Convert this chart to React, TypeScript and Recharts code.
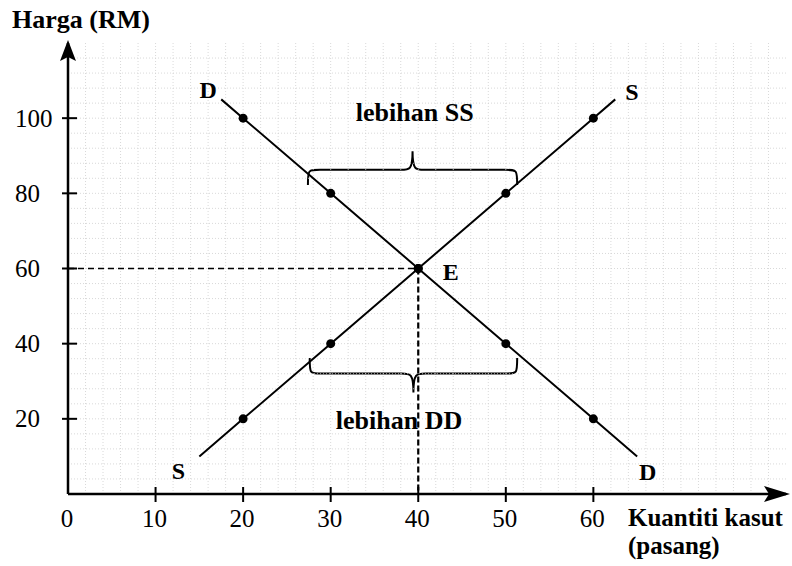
import React from 'react';
import {
  ComposedChart,
  Line,
  XAxis,
  YAxis,
  ReferenceLine,
  ReferenceDot,
  ReferenceArea,
} from 'recharts';

// ---- data ----
const quantities = [20, 30, 40, 50, 60];
const demandPrices = [100, 80, 60, 40, 20];
const supplyPrices = [20, 40, 60, 80, 100];
const demandEnds = [
  { q: 17.5, p: 105 },
  { q: 65, p: 10 },
];
const supplyEnds = [
  { q: 15, p: 10 },
  { q: 62.5, p: 105 },
];
const equilibrium = { q: 40, p: 60 };
const xTicks = [0, 10, 20, 30, 40, 50, 60];
const yTicks = [20, 40, 60, 80, 100];
const gridQ = Array.from({ length: 40 }, (_, i) => (i + 1) * 2);
const gridP = Array.from({ length: 29 }, (_, i) => (i + 1) * 4);

const demandData = [
  { q: demandEnds[0].q, p: demandEnds[0].p, mark: false },
  ...quantities.map((q, i) => ({ q, p: demandPrices[i], mark: true })),
  { q: demandEnds[1].q, p: demandEnds[1].p, mark: false },
];
const supplyData = [
  { q: supplyEnds[0].q, p: supplyEnds[0].p, mark: false },
  ...quantities.map((q, i) => ({ q, p: supplyPrices[i], mark: true })),
  { q: supplyEnds[1].q, p: supplyEnds[1].p, mark: false },
];

const FONT = '"Liberation Serif", "Times New Roman", serif';

const renderDot = (props: any) => {
  const { cx, cy, payload, index } = props;
  if (!payload || !payload.mark) return <g key={`d-${index}`} />;
  return <circle key={`d-${index}`} cx={cx} cy={cy} r={4.5} fill="#000" />;
};

const YTick = (props: any) => {
  const { x, y, payload } = props;
  return (
    <g>
      <line x1={x - 6} x2={x + 9} y1={y} y2={y} stroke="#000" strokeWidth={2} />
      <text x={x - 53} y={y + 8.5} fontFamily={FONT} fontSize={25} fill="#000" textAnchor="start">
        {payload.value}
      </text>
    </g>
  );
};

const XTick = (props: any) => {
  const { x, y, payload } = props;
  return (
    <g>
      {payload.value !== 0 && (
        <line x1={x} x2={x} y1={y - 7} y2={y + 8} stroke="#000" strokeWidth={2} />
      )}
      <text x={x - 1} y={y + 33} fontFamily={FONT} fontSize={25} fill="#000" textAnchor="middle">
        {payload.value}
      </text>
    </g>
  );
};

function bracePath(x0: number, x1: number, yEnd: number, yTip: number) {
  const xc = (x0 + x1) / 2;
  const ym = yEnd + (yTip - yEnd) * 0.45;
  const r = 12;
  return `M${x0},${yEnd} C${x0},${ym} ${x0},${ym} ${x0 + r},${ym} L${xc - r},${ym} C${xc - 3},${ym} ${xc},${ym} ${xc},${yTip} C${xc},${ym} ${xc + 3},${ym} ${xc + r},${ym} L${x1 - r},${ym} C${x1},${ym} ${x1},${ym} ${x1},${yEnd}`;
}

const UpperBrace = (props: any) => {
  const { x, y, width, height } = props;
  return <path d={bracePath(x, x + width, y + height, y)} fill="none" stroke="#000" strokeWidth={2} />;
};
const LowerBrace = (props: any) => {
  const { x, y, width, height } = props;
  return <path d={bracePath(x, x + width, y, y + height)} fill="none" stroke="#000" strokeWidth={2} />;
};

const textShape = (label: string, size: number) => (props: any) => {
  const { cx, cy } = props;
  return (
    <text x={cx} y={cy} fontFamily={FONT} fontSize={size} fontWeight="bold" fill="#000" textAnchor="middle">
      {label}
    </text>
  );
};

const UpArrow = (props: any) => {
  const { cx, cy } = props;
  return <path d={`M${cx},${cy - 3} L${cx - 8},${cy + 18} L${cx},${cy + 14} L${cx + 8},${cy + 18} Z`} fill="#000" />;
};
const RightArrow = (props: any) => {
  const { cx, cy } = props;
  return <path d={`M${cx + 4},${cy} L${cx - 22},${cy - 8} L${cx - 17},${cy} L${cx - 22},${cy + 8} Z`} fill="#000" />;
};

export default function App() {
  return (
    <div style={{ position: 'absolute', left: 0, top: 0, background: '#fff' }}>
      <ComposedChart width={792} height={566} margin={{ top: 43, right: 6, bottom: 42, left: 8 }}>
        <XAxis
          type="number"
          dataKey="q"
          domain={[0, 82]}
          ticks={xTicks}
          interval={0}
          allowDataOverflow
          height={30}
          tickSize={0}
          tickMargin={0}
          tickLine={false}
          axisLine={{ stroke: '#000', strokeWidth: 2.5 }}
          tick={XTick}
          label={{
            content: (p: any) => {
              const vb = p.viewBox || { x: 68, y: 494 };
              return (
                <g>
                  <text x={vb.x + 560} y={vb.y + 32} fontFamily={FONT} fontSize={25} fontWeight="bold" fill="#000">
                    Kuantiti kasut
                  </text>
                  <text x={vb.x + 560} y={vb.y + 60} fontFamily={FONT} fontSize={25} fontWeight="bold" fill="#000">
                    (pasang)
                  </text>
                </g>
              );
            },
          }}
        />
        <YAxis
          type="number"
          dataKey="p"
          domain={[0, 120]}
          ticks={yTicks}
          interval={0}
          allowDataOverflow
          width={60}
          tickSize={0}
          tickMargin={0}
          tickLine={false}
          axisLine={{ stroke: '#000', strokeWidth: 2.5 }}
          tick={YTick}
          label={{
            content: (p: any) => {
              const vb = p.viewBox || { x: 8, y: 43 };
              return (
                <text x={vb.x + 4} y={vb.y - 15} fontFamily={FONT} fontSize={26} fontWeight="bold" fill="#000">
                  Harga (RM)
                </text>
              );
            },
          }}
        />

        {gridQ.map((q) => (
          <ReferenceLine key={`gq${q}`} x={q} stroke="#cfcfcf" strokeWidth={0.8} strokeDasharray="1 2" />
        ))}
        {gridP.map((p) => (
          <ReferenceLine key={`gp${p}`} y={p} stroke="#cfcfcf" strokeWidth={0.8} strokeDasharray="1 2" />
        ))}

        <ReferenceLine
          segment={[
            { x: 0, y: equilibrium.p },
            { x: equilibrium.q, y: equilibrium.p },
          ]}
          stroke="#000"
          strokeWidth={1.3}
          strokeDasharray="6 4"
        />
        <ReferenceLine
          segment={[
            { x: equilibrium.q, y: equilibrium.p },
            { x: equilibrium.q, y: 0 },
          ]}
          stroke="#000"
          strokeWidth={2.2}
          strokeDasharray="6 3"
        />

        <Line
          data={demandData}
          dataKey="p"
          type="linear"
          stroke="#000"
          strokeWidth={2}
          dot={renderDot}
          activeDot={false}
          isAnimationActive={false}
        />
        <Line
          data={supplyData}
          dataKey="p"
          type="linear"
          stroke="#000"
          strokeWidth={2}
          dot={renderDot}
          activeDot={false}
          isAnimationActive={false}
        />

        <ReferenceArea x1={27.4} x2={51.3} y1={82.2} y2={91.2} shape={UpperBrace} />
        <ReferenceArea x1={27.6} x2={51.3} y1={27} y2={36.2} shape={LowerBrace} />

        <ReferenceDot x={16} y={105.4} r={0} shape={textShape('D', 24)} ifOverflow="visible" />
        <ReferenceDot x={66.2} y={3.7} r={0} shape={textShape('D', 24)} ifOverflow="visible" />
        <ReferenceDot x={64.4} y={104.8} r={0} shape={textShape('S', 24)} ifOverflow="visible" />
        <ReferenceDot x={12.6} y={4} r={0} shape={textShape('S', 24)} ifOverflow="visible" />
        <ReferenceDot x={43.7} y={56.9} r={0} shape={textShape('E', 24)} ifOverflow="visible" />
        <ReferenceDot x={39.6} y={99.3} r={0} shape={textShape('lebihan SS', 26)} ifOverflow="visible" />
        <ReferenceDot x={37.8} y={17.3} r={0} shape={textShape('lebihan DD', 26)} ifOverflow="visible" />

        <ReferenceDot x={0} y={120} r={0} shape={UpArrow} ifOverflow="visible" />
        <ReferenceDot x={82} y={0} r={0} shape={RightArrow} ifOverflow="visible" />
      </ComposedChart>
    </div>
  );
}
